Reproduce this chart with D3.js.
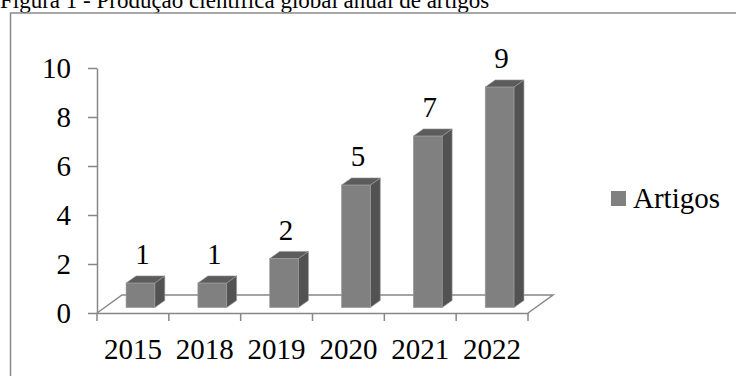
<!DOCTYPE html>
<html>
<head>
<meta charset="utf-8">
<script src="https://cdnjs.cloudflare.com/ajax/libs/d3/7.8.5/d3.min.js"></script>
<style>
  body { margin: 0; background: #fff; }
  svg { display: block; font-family: "Liberation Serif", "Times New Roman", serif; }
  .axis path, .axis line { stroke: #878787; stroke-width: 1.5; }
  .axis text { fill: #000; font-size: 29px; font-family: "Liberation Serif", serif; }
</style>
</head>
<body>
<div id="chart"></div>
<script>
// data
var years = ["2015", "2018", "2019", "2020", "2021", "2022"];
var artigos = [1, 1, 2, 5, 7, 9];
var yTicks = [0, 2, 4, 6, 8, 10];
var seriesName = "Artigos";
var titleText = "Figura 1 - Produção científica global anual de artigos";

var width = 736;
var height = 376;

// depth of the 3d floor (oblique)
var depthX = 25;
var depthY = -18;
// bars sit between these depth fractions
var dFront = 0.3;
var dBack = 0.7;

var svg = d3
  .select("#chart")
  .append("svg")
  .attr("width", width)
  .attr("height", height);

// title (clipped at the top like in the scan)
svg
  .append("text")
  .attr("x", 0)
  .attr("y", 8)
  .attr("font-size", 23)
  .attr("fill", "#000")
  .text(titleText);

// frame
svg
  .append("rect")
  .attr("x", 10.5)
  .attr("y", 13)
  .attr("width", 800)
  .attr("height", 500)
  .attr("fill", "none")
  .attr("stroke", "#8a8a8a")
  .attr("stroke-width", 1.5);

var x_Scale = d3
  .scaleBand()
  .domain(years)
  .range([97, 528]);

var y_Scale = d3
  .scaleLinear()
  .domain([0, 10])
  .range([313, 68]);

var bw = x_Scale.bandwidth();
var barW = bw * 0.4;

// floor parallelogram
var x0 = x_Scale.range()[0];
var x1 = x_Scale.range()[1];
var y0 = y_Scale(0);
svg
  .append("path")
  .attr("d",
    "M" + x0 + "," + y0 +
    "L" + (x0 + depthX) + "," + (y0 + depthY) +
    "L" + (x1 + depthX) + "," + (y0 + depthY) +
    "L" + x1 + "," + y0)
  .attr("fill", "none")
  .attr("stroke", "#878787")
  .attr("stroke-width", 1.5);

// y axis
var y_Axis = d3.axisLeft(y_Scale)
  .tickValues(yTicks)
  .tickSize(9)
  .tickSizeOuter(0)
  .tickPadding(17);

svg
  .append("g")
  .attr("class", "axis yAxis")
  .attr("transform", "translate(" + x0 + ",0)")
  .call(y_Axis);

// x axis (labels centred, ticks on the band edges)
var x_Axis = d3.axisBottom(x_Scale)
  .tickSize(0)
  .tickSizeOuter(0)
  .tickPadding(25);

var xg = svg
  .append("g")
  .attr("class", "axis xAxis")
  .attr("transform", "translate(0," + y0 + ")")
  .call(x_Axis);

var edges = years.map(function(d) { return x_Scale(d); }).concat([x1]);
xg.selectAll(".edge")
  .data(edges)
  .enter()
  .append("line")
  .attr("class", "edge")
  .attr("x1", function(d) { return d; })
  .attr("x2", function(d) { return d; })
  .attr("y1", 0)
  .attr("y2", 8);

// 3d bars
var bars = svg.selectAll("g.bar")
  .data(artigos)
  .enter()
  .append("g")
  .attr("class", "bar");

function frontLeft(d, i) {
  return x_Scale(years[i]) + bw / 2 - barW / 2 + dFront * depthX;
}
var baseY = y0 + dFront * depthY;
var dx = (dBack - dFront) * depthX;
var dy = (dBack - dFront) * depthY;
var unit = y_Scale(0) - y_Scale(1);

// side face
bars.append("path")
  .attr("d", function(d, i) {
    var l = frontLeft(d, i) + barW;
    var t = baseY - d * unit;
    return "M" + l + "," + baseY + "L" + l + "," + t +
      "L" + (l + dx) + "," + (t + dy) + "L" + (l + dx) + "," + (baseY + dy) + "Z";
  })
  .attr("fill", "#525252")
  .attr("stroke", "#9a9a9a")
  .attr("stroke-width", 0.6);

// top face
bars.append("path")
  .attr("d", function(d, i) {
    var l = frontLeft(d, i);
    var t = baseY - d * unit;
    return "M" + l + "," + t + "L" + (l + dx) + "," + (t + dy) +
      "L" + (l + barW + dx) + "," + (t + dy) + "L" + (l + barW) + "," + t + "Z";
  })
  .attr("fill", "#5c5c5c")
  .attr("stroke", "#9a9a9a")
  .attr("stroke-width", 0.6);

// front face
bars.append("rect")
  .attr("x", function(d, i) { return frontLeft(d, i); })
  .attr("y", function(d) { return baseY - d * unit; })
  .attr("width", barW)
  .attr("height", function(d) { return d * unit; })
  .attr("fill", "#808080")
  .attr("stroke", "#9a9a9a")
  .attr("stroke-width", 0.6);

// value labels
bars.append("text")
  .attr("x", function(d, i) { return frontLeft(d, i) + barW / 2 + 2; })
  .attr("y", function(d) { return baseY - d * unit - 19; })
  .attr("text-anchor", "middle")
  .attr("font-size", 29)
  .attr("fill", "#000")
  .text(function(d) { return d; });

// legend
var legend = svg.append("g").attr("class", "legend");
legend.append("rect")
  .attr("x", 611)
  .attr("y", 191)
  .attr("width", 15)
  .attr("height", 15)
  .attr("fill", "#808080");
legend.append("text")
  .attr("x", 633)
  .attr("y", 208)
  .attr("font-size", 29)
  .attr("fill", "#000")
  .text(seriesName);
</script>
</body>
</html>
